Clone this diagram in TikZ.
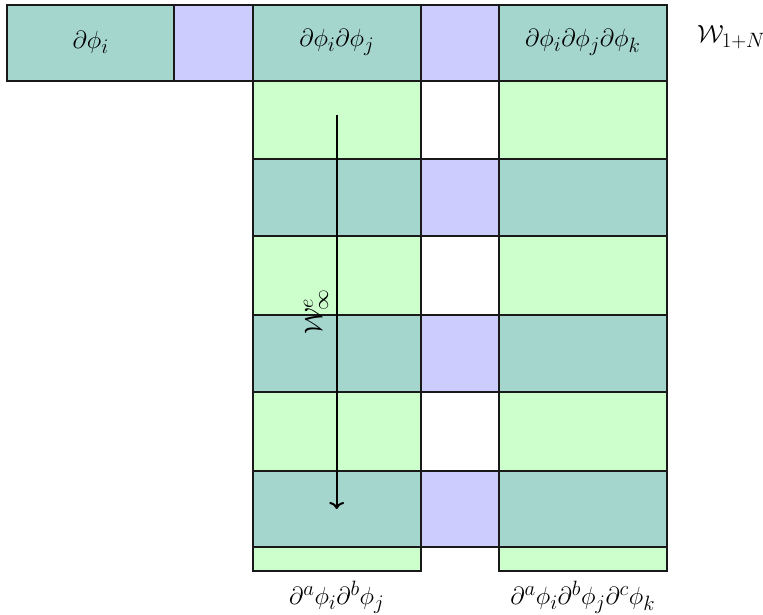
\documentclass[tikz,border=0pt]{standalone}
\usetikzlibrary{arrows.meta}
\definecolor{tealc}{RGB}{164,214,206}
\definecolor{greenc}{RGB}{204,255,204}
\definecolor{purplec}{RGB}{204,204,255}
\begin{document}
\begin{tikzpicture}[x=1pt,y=-1pt,
  cellbox/.style={draw=black!90,line width=1.7pt},
  tealbox/.style={cellbox,fill=tealc},
  greenbox/.style={cellbox,fill=greenc},
  purplebox/.style={cellbox,fill=purplec},
  lbl/.style={inner sep=0pt,font=\fontsize{27.5}{33}\selectfont},
  flow/.style={line width=2pt,-{To[length=7pt,width=15pt]}}]
\useasboundingbox (0,0) rectangle (763,615);
% column green rows
\foreach \ya/\yb in {81/159.3, 236/315, 391.7/470.7, 546.7/571}{
  \draw[greenbox] (252.7,\ya) rectangle (420.7,\yb);
  \draw[greenbox] (499,\ya) rectangle (666.7,\yb);
}
% column teal rows
\foreach \ya/\yb in {159.3/236, 315/391.7, 470.7/546.7}{
  \draw[tealbox] (252.7,\ya) rectangle (420.7,\yb);
  \draw[purplebox] (420.7,\ya) rectangle (499,\yb);
  \draw[tealbox] (499,\ya) rectangle (666.7,\yb);
}
% top row
\draw[tealbox] (7,4.7) rectangle (174.3,81);
\draw[purplebox] (174.3,4.7) rectangle (252.7,81);
\draw[tealbox] (252.7,4.7) rectangle (420.7,81);
\draw[purplebox] (420.7,4.7) rectangle (499,81);
\draw[tealbox] (499,4.7) rectangle (666.7,81);
% labels
\node[lbl] (l1) at (90.7,42.8) {$\partial\phi_i$};
\node[lbl] (l2) at (336.7,42.8) {$\partial\phi_i\partial\phi_j$};
\node[lbl] (l3) at (582.8,42.8) {$\partial\phi_i\partial\phi_j\partial\phi_k$};
\node[lbl,anchor=west] (wn) at (697,37) {$\mathcal{W}_{1+N}$};
\node[lbl] (b1) at (336.7,597) {$\partial^a\phi_i\partial^b\phi_j$};
\node[lbl] (b2) at (582.8,597) {$\partial^a\phi_i\partial^b\phi_j\partial^c\phi_k$};
\node[lbl,rotate=90] (winf) at (316,312) {$\mathcal{W}^e_\infty$};
% arrow
\coordinate (as) at (336.7,115);
\coordinate (ae) at (336.7,509);
\draw[flow] (as) -- (ae);
\end{tikzpicture}
\end{document}
